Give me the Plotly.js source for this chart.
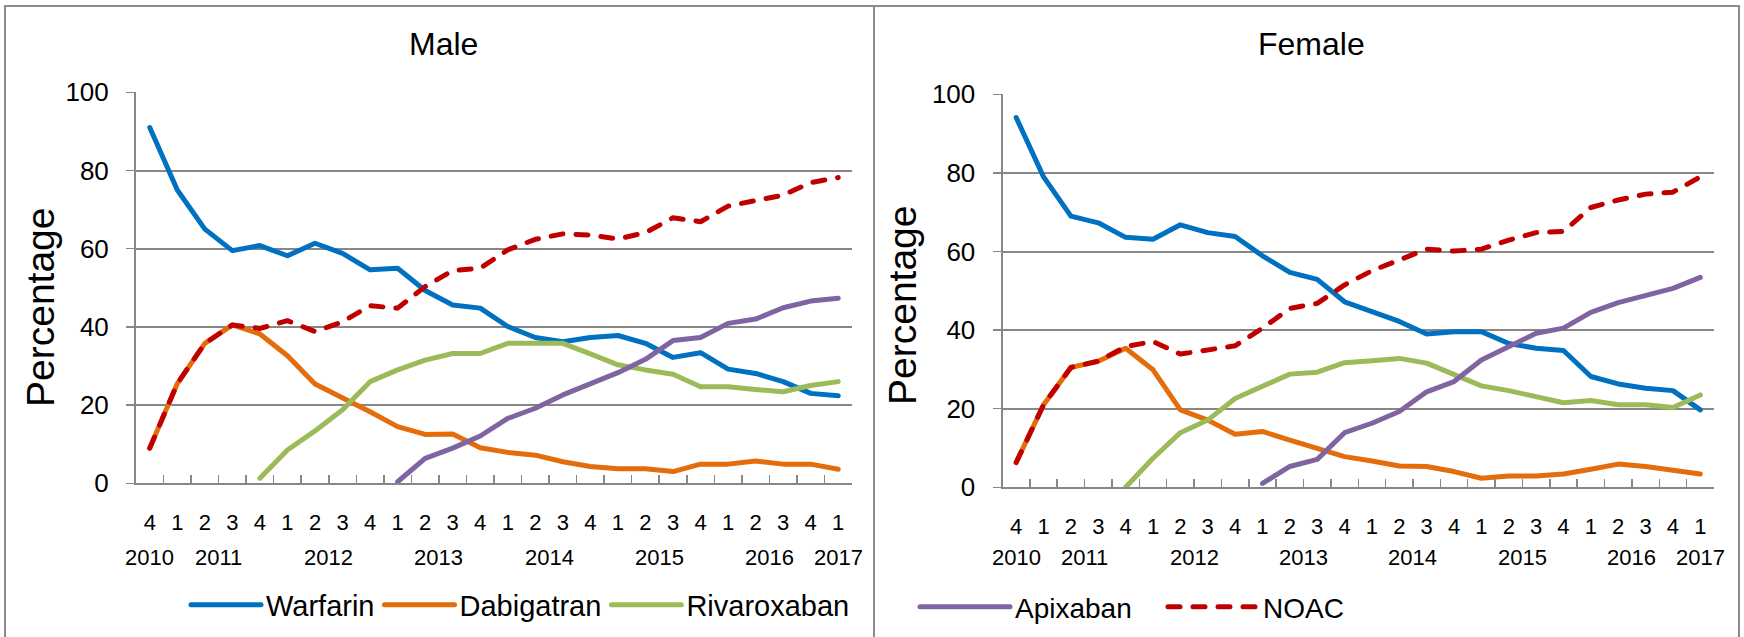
<!DOCTYPE html>
<html>
<head>
<meta charset="utf-8">
<script src="https://cdn.plot.ly/plotly-3.0.1.min.js"></script>
<style>
  html, body { margin: 0; padding: 0; background: #fff; }
  #chart { width: 1744px; height: 637px; }
  .js-line, .legendlines path { stroke-linecap: round !important; stroke-linejoin: round !important; }
</style>
</head>
<body>
<div id="chart"></div>
<script>
// Category axis: quarter and year of each point
const quarters = ['4','1','2','3','4','1','2','3','4','1','2','3','4','1','2','3','4','1','2','3','4','1','2','3','4','1'];
const years = ['2010','2011','2011','2011','2011','2012','2012','2012','2012','2013','2013','2013','2013',
               '2014','2014','2014','2014','2015','2015','2015','2015','2016','2016','2016','2016','2017'];

const seriesNames = ['Warfarin', 'Dabigatran', 'Rivaroxaban', 'Apixaban', 'NOAC'];

// Male (percentage)
const warfarinM = [91.0, 75.0, 65.0, 59.5, 60.8, 58.2, 61.4, 58.8, 54.6, 55.0, 49.3, 45.6, 44.8, 40.1, 37.3, 36.2, 37.3, 37.8, 35.8, 32.2, 33.4, 29.2, 28.1, 26.0, 23.0, 22.4];
const dabigatranM = [9.0, 25.5, 35.8, 40.5, 38.2, 32.6, 25.4, 22.0, 18.3, 14.5, 12.5, 12.6, 9.1, 7.9, 7.2, 5.5, 4.3, 3.7, 3.7, 3.0, 4.9, 4.9, 5.7, 4.9, 4.9, 3.6];
const rivaroxabanM = [null, null, null, null, 1.3, 8.5, 13.4, 18.8, 26.0, 29.0, 31.5, 33.2, 33.2, 35.8, 35.8, 35.8, 33.1, 30.3, 29.0, 27.9, 24.7, 24.7, 24.0, 23.4, 25.0, 26.0];
const apixabanM = [null, null, null, null, null, null, null, null, null, 0.4, 6.4, 9.0, 12.1, 16.6, 19.2, 22.6, 25.4, 28.3, 31.7, 36.5, 37.3, 40.9, 42.0, 44.9, 46.6, 47.3];
const noacM = [9.0, 25.5, 35.8, 40.5, 39.6, 41.6, 38.8, 41.3, 45.4, 44.8, 50.3, 54.4, 55.0, 59.7, 62.4, 63.8, 63.5, 62.5, 64.1, 67.9, 66.9, 70.9, 72.3, 73.7, 76.9, 78.2];

// Female (percentage)
const warfarinF = [94.1, 79.0, 69.0, 67.3, 63.6, 63.1, 66.8, 64.8, 63.8, 58.9, 54.7, 52.9, 47.2, 44.8, 42.2, 39.0, 39.6, 39.6, 36.6, 35.4, 34.8, 28.2, 26.3, 25.2, 24.6, 19.7];
const dabigatranF = [6.3, 21.0, 30.5, 32.1, 35.4, 29.9, 19.7, 17.1, 13.5, 14.2, 12.0, 9.9, 7.8, 6.7, 5.4, 5.3, 4.0, 2.3, 2.9, 2.9, 3.4, 4.6, 5.9, 5.3, 4.2, 3.4];
const rivaroxabanF = [null, null, null, null, 0.0, 7.4, 13.9, 17.1, 22.6, 25.6, 28.8, 29.3, 31.7, 32.2, 32.8, 31.6, 28.6, 25.8, 24.6, 22.9, 21.5, 22.1, 21.0, 21.0, 20.3, 23.5];
const apixabanF = [null, null, null, null, null, null, null, null, null, 1.0, 5.3, 7.1, 13.9, 16.3, 19.3, 24.3, 26.9, 32.4, 35.8, 39.2, 40.5, 44.5, 47.0, 48.9, 50.6, 53.4];
const noacF = [6.3, 21.0, 30.5, 32.1, 35.8, 37.1, 33.9, 34.9, 36.0, 40.5, 45.5, 46.8, 51.5, 55.1, 57.8, 60.6, 60.1, 60.6, 62.9, 64.8, 65.1, 71.2, 73.1, 74.6, 75.1, 79.0];

const panelTitles = ['Male', 'Female'];
const yTitle = 'Percentage';

// ---- styling ----
const colors = ['#0070C0', '#E46C0A', '#9BBB59', '#8064A2', '#C00000'];
const dashes = ['solid', 'solid', 'solid', 'solid', '12px,13px'];
const FONT = 'Liberation Sans, Arial, sans-serif';
const GRID = '#878787';
const W = 1744, H = 637;
const LW = 5;

// position of each period on the category axis
const idx = quarters.map((q, i) => i);

const male = [warfarinM, dabigatranM, rivaroxabanM, apixabanM, noacM];
const female = [warfarinF, dabigatranF, rivaroxabanF, apixabanF, noacF];

const traces = [];
male.forEach((vals, k) => {
  traces.push({
    type: 'scatter', mode: 'lines', name: seriesNames[k],
    x: idx, y: vals, xaxis: 'x', yaxis: 'y',
    line: {color: colors[k], width: LW, dash: dashes[k]},
    showlegend: k < 3, legend: 'legend', hoverinfo: 'skip'
  });
});
female.forEach((vals, k) => {
  traces.push({
    type: 'scatter', mode: 'lines', name: seriesNames[k],
    x: idx, y: vals, xaxis: 'x2', yaxis: 'y2',
    line: {color: colors[k], width: LW, dash: dashes[k]},
    showlegend: k >= 3, legend: 'legend2', hoverinfo: 'skip'
  });
});

function xAxis(domain, anchor) {
  return {
    type: 'linear', domain: domain, anchor: anchor,
    range: [-0.5, quarters.length - 0.5], autorange: false,
    tickmode: 'array', tickvals: idx, ticktext: quarters,
    ticks: '', showline: true, linecolor: GRID, linewidth: 2,
    showgrid: false, zeroline: false,
    tickfont: {family: FONT, size: 22, color: '#000'},
    ticklabelstandoff: 18,
    minor: {tickmode: 'array', tickvals: idx.slice(1).map(i => i - 0.5),
            ticks: 'inside', ticklen: 8, tickwidth: 1.5, tickcolor: GRID, showgrid: false}
  };
}
function yAxis(domain, anchor) {
  return {
    domain: domain, anchor: anchor,
    range: [0, 100], autorange: false, tick0: 0, dtick: 20,
    showgrid: true, gridcolor: GRID, gridwidth: 2,
    showline: true, linecolor: GRID, linewidth: 2,
    zeroline: false,
    ticks: 'outside', ticklen: 8, tickwidth: 1.5, tickcolor: GRID,
    tickfont: {family: FONT, size: 26, color: '#000'},
    ticklabelstandoff: 12
  };
}

// year labels centred under their quarters
const yearNames = [...new Set(years)];
function yearAnnotations(xref) {
  return yearNames.map(y => {
    const pos = idx.filter(i => years[i] === y);
    const c = pos.reduce((a, b) => a + b, 0) / pos.length;
    return {text: y, xref: xref, yref: 'paper', x: c, y: 1 - 557 / H,
            xanchor: 'center', yanchor: 'middle', showarrow: false,
            font: {family: FONT, size: 22, color: '#000'}};
  });
}

const layout = {
  width: W, height: H,
  margin: {l: 0, r: 0, t: 0, b: 0},
  paper_bgcolor: '#fff', plot_bgcolor: 'rgba(0,0,0,0)',
  font: {family: FONT, color: '#000'},
  xaxis: xAxis([136 / W, 852 / W], 'y'),
  yaxis: yAxis([1 - 483.3 / H, 1 - 92.3 / H], 'x'),
  xaxis2: xAxis([1002.5 / W, 1714 / W], 'y2'),
  yaxis2: yAxis([1 - 487.3 / H, 1 - 94.3 / H], 'x2'),
  legend: {
    orientation: 'h', x: 186 / W, xanchor: 'left', y: 1 - 605 / H, yanchor: 'middle',
    font: {family: FONT, size: 29, color: '#000'}, itemwidth: 70,
    bgcolor: 'rgba(0,0,0,0)', traceorder: 'normal'
  },
  legend2: {
    orientation: 'h', x: 915 / W, xanchor: 'left', y: 1 - 607 / H, yanchor: 'middle',
    font: {family: FONT, size: 28, color: '#000'}, itemwidth: 90, entrywidth: 143,
    bgcolor: 'rgba(0,0,0,0)', traceorder: 'normal'
  },
  annotations: [
    {text: panelTitles[0], xref: 'paper', yref: 'paper', x: 443 / W, y: 1 - 44 / H,
     xanchor: 'center', yanchor: 'middle', showarrow: false, font: {family: FONT, size: 32, color: '#000'}},
    {text: panelTitles[1], xref: 'paper', yref: 'paper', x: 1311 / W, y: 1 - 44 / H,
     xanchor: 'center', yanchor: 'middle', showarrow: false, font: {family: FONT, size: 32, color: '#000'}},
    {text: yTitle, xref: 'paper', yref: 'paper', x: 40 / W, y: 1 - 308 / H, textangle: -90,
     xanchor: 'center', yanchor: 'middle', showarrow: false, font: {family: FONT, size: 39, color: '#000'}},
    {text: yTitle, xref: 'paper', yref: 'paper', x: 902 / W, y: 1 - 306 / H, textangle: -90,
     xanchor: 'center', yanchor: 'middle', showarrow: false, font: {family: FONT, size: 39, color: '#000'}}
  ].concat(yearAnnotations('x'), yearAnnotations('x2')),
  shapes: [
    {type: 'rect', xref: 'paper', yref: 'paper', x0: 5 / W, x1: 874 / W, y0: -0.05, y1: 1 - 6 / H,
     line: {color: '#8c8c8c', width: 2}, fillcolor: 'rgba(0,0,0,0)', layer: 'below'},
    {type: 'rect', xref: 'paper', yref: 'paper', x0: 874 / W, x1: 1739 / W, y0: -0.05, y1: 1 - 6 / H,
     line: {color: '#8c8c8c', width: 2}, fillcolor: 'rgba(0,0,0,0)', layer: 'below'}
  ]
};

Plotly.newPlot('chart', traces, layout, {staticPlot: true, displayModeBar: false});
</script>
</body>
</html>
